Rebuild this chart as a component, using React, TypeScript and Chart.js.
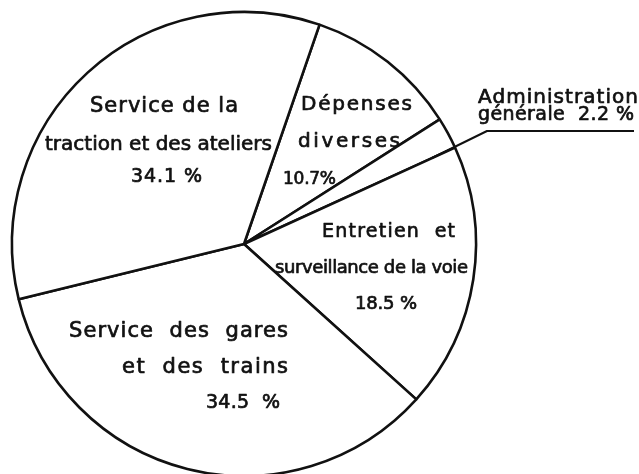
import React, { useEffect, useRef } from "react";
import { Chart, registerables } from "chart.js";

Chart.register(...registerables);

// ---- data ----
const CATEGORIES = [
  "Dépenses diverses",
  "Administration générale",
  "Entretien et surveillance de la voie",
  "Service des gares et des trains",
  "Service de la traction et des ateliers",
];
const SHARES = [10.7, 2.2, 18.5, 34.5, 34.1];

// text of each label, "{v}" is replaced by the share value
const LABEL_TEXT: string[][] = [
  ["Dépenses", "diverses", "{v}%"],
  ["Administration", "générale  {v} %"],
  ["Entretien  et", "surveillance de la voie", "{v} %"],
  ["Service  des  gares", "et  des  trains", "{v}  %"],
  ["Service de la", "traction et des ateliers", "{v} %"],
];

// layout of each line: [dx from pie centre (left edge), dy (baseline), width, font size]
const LABEL_LAYOUT: number[][][] = [
  [[57, -134, 111, 20], [54, -97, 102, 20], [39, -60, 53, 17]],
  [[234, -141, 160, 20], [234, -124, 156, 19]],
  [[78, -7, 133, 19], [31, 29, 193, 18], [111, 65, 62, 18]],
  [[-175, 93, 219, 21], [-122, 129, 166, 21], [-38, 164, 74, 19]],
  [[-154, -132, 148, 21], [-199, -94, 227, 20], [-113, -62, 71, 19]],
];
// leader for the small slice: start, corner, end of underline (px from centre)
const LEADER = [[188, -86], [243, -113], [390, -113]];

const labelPlugin = {
  id: "handLabels",
  afterDraw(chart: any) {
    const meta = chart.getDatasetMeta(0);
    const arc = meta.data[0];
    if (!arc) return;
    const cx = arc.x;
    const cy = arc.y;
    const ctx = chart.ctx as CanvasRenderingContext2D;
    ctx.save();
    ctx.fillStyle = "#111";
    ctx.strokeStyle = "#111";
    ctx.lineWidth = 0.7;
    ctx.lineJoin = "round";
    ctx.textAlign = "left";
    ctx.textBaseline = "alphabetic";
    LABEL_TEXT.forEach((lines, i) => {
      lines.forEach((raw, j) => {
        const text = raw.replace("{v}", String(SHARES[i]));
        const [dx, dy, w, size] = LABEL_LAYOUT[i][j];
        ctx.font = `${size}px "DejaVu Sans"`;
        (ctx as any).letterSpacing = "0px";
        const natural = ctx.measureText(text).width;
        const n = Array.from(text).length;
        const ls = n > 1 ? (w - natural) / (n - 1) : 0;
        (ctx as any).letterSpacing = `${ls}px`;
        ctx.fillText(text, cx + dx, cy + dy);
        ctx.strokeText(text, cx + dx, cy + dy);
      });
    });
    (ctx as any).letterSpacing = "0px";
    ctx.lineWidth = 2;
    ctx.beginPath();
    ctx.moveTo(cx + LEADER[0][0], cy + LEADER[0][1]);
    ctx.lineTo(cx + LEADER[1][0], cy + LEADER[1][1]);
    ctx.lineTo(cx + LEADER[2][0], cy + LEADER[2][1]);
    ctx.stroke();
    ctx.restore();
  },
};

export default function App() {
  const ref = useRef<HTMLCanvasElement | null>(null);
  useEffect(() => {
    if (!ref.current) return;
    const chart = new Chart(ref.current, {
      type: "pie",
      data: {
        labels: CATEGORIES,
        datasets: [
          {
            data: SHARES,
            backgroundColor: "#ffffff",
            borderColor: "#111111",
            borderWidth: 2.6,
            hoverOffset: 0,
            offset: 0,
            radius: 232,
            clip: false,
          } as any,
        ],
      },
      options: {
        animation: false,
        responsive: false,
        devicePixelRatio: 1,
        rotation: 19,
        events: [],
        layout: { padding: { left: 44, top: 44, right: 195, bottom: 30 } },
        plugins: {
          legend: { display: false },
          tooltip: { enabled: false },
          title: { display: false },
        },
      } as any,
      plugins: [labelPlugin],
    });
    return () => chart.destroy();
  }, []);
  return (
    <div style={{ position: "absolute", left: 0, top: 0, width: 639, height: 474, background: "#fff" }}>
      <canvas ref={ref} width={639} height={474} style={{ display: "block" }} />
    </div>
  );
}
